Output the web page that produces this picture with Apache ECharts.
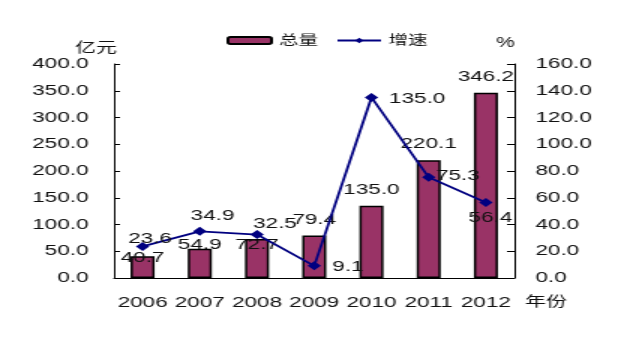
<!DOCTYPE html>
<html>
<head>
<meta charset="utf-8">
<script src="https://cdn.jsdelivr.net/npm/echarts@6/dist/echarts.min.js"></script>
<style>
  html, body { margin: 0; padding: 0; background: #fff; overflow: hidden; }
  /* The chart is laid out at 424px and stretched 1.5x horizontally to 636px */
  #chart { width: 424px; height: 341px; transform: scaleX(1.5); transform-origin: 0 0; }
</style>
</head>
<body>
<div id="chart"></div>
<script>
// Categories and values
const years = ['2006', '2007', '2008', '2009', '2010', '2011', '2012'];
const totalValues = [40.7, 54.9, 72.7, 79.4, 135.0, 220.1, 346.2];   // 总量, 亿元
const growthValues = [23.6, 34.9, 32.5, 9.1, 135.0, 75.3, 56.4];    // 增速, %

// Axis ranges
const leftAxisRange = [0, 400, 50];
const rightAxisRange = [0, 160, 20];

// Label placement tweaks (layout only)
const totalLabelShiftY = [17, 12, 21, 0, 0, -1, 0];
const growthLabelOffset = [[5, -8], [8.5, -15], [12, -11], [22.5, 1], [30.5, 1.5], [19.5, -1], [3, 15]];

const FONT = '"Liberation Sans", Arial, "Noto Sans CJK SC", sans-serif';
const TEXT = '#111';
const FS = 15;

const chart = echarts.init(document.getElementById('chart'));

const fmt = v => Number(v).toFixed(1);

chart.setOption({
  backgroundColor: '#fff',
  animation: false,
  textStyle: { fontFamily: FONT, color: TEXT },
  legend: {
    left: 146,
    top: 29,
    itemWidth: 29,
    itemHeight: 7,
    itemGap: 12,
    textStyle: { fontFamily: FONT, fontSize: 13, color: TEXT },
    data: ['总量', '增速']
  },
  grid: { left: 76, right: 81, top: 64, bottom: 63 },
  xAxis: {
    type: 'category',
    data: years,
    boundaryGap: true,
    name: '年份',
    nameLocation: 'end',
    nameGap: 7,
    nameTextStyle: { fontFamily: FONT, fontSize: 14, color: TEXT, verticalAlign: 'top', padding: [17, 0, 0, 0] },
    axisLine: { lineStyle: { color: '#000', width: 1 } },
    axisTick: { inside: true, length: 5, lineStyle: { color: '#000' } },
    axisLabel: { interval: 0, margin: 17, fontSize: FS, color: TEXT, fontFamily: FONT }
  },
  yAxis: [
    {
      type: 'value',
      position: 'left',
      min: leftAxisRange[0], max: leftAxisRange[1], interval: leftAxisRange[2],
      name: '亿元',
      nameLocation: 'end',
      nameGap: 9,
      nameTextStyle: { fontFamily: FONT, fontSize: 14, color: TEXT, padding: [0, 24, 0, 0] },
      axisLine: { show: true, lineStyle: { color: '#000', width: 1 } },
      axisTick: { show: true, inside: true, length: 4, lineStyle: { color: '#000' } },
      splitLine: { show: false },
      axisLabel: { margin: 17, fontSize: FS, color: TEXT, fontFamily: FONT, formatter: fmt }
    },
    {
      type: 'value',
      position: 'right',
      min: rightAxisRange[0], max: rightAxisRange[1], interval: rightAxisRange[2],
      name: '%',
      nameLocation: 'end',
      nameGap: 14,
      nameTextStyle: { fontFamily: FONT, fontSize: 14, color: TEXT, padding: [0, 12, 0, 0] },
      axisLine: { show: true, lineStyle: { color: '#000', width: 1 } },
      axisTick: { show: true, inside: true, length: 5, lineStyle: { color: '#000' } },
      splitLine: { show: false },
      axisLabel: { margin: 14, fontSize: FS, color: TEXT, fontFamily: FONT, formatter: fmt }
    }
  ],
  series: [
    {
      name: '总量',
      type: 'bar',
      yAxisIndex: 0,
      barWidth: 16,
      itemStyle: { color: '#993366', borderColor: '#000', borderWidth: 1.5 },
      label: {
        show: true,
        position: 'top',
        distance: 8,
        fontSize: FS,
        fontFamily: FONT,
        color: TEXT,
        formatter: p => fmt(p.value)
      },
      data: totalValues.map((v, i) => ({
        value: v,
        label: { offset: [0, totalLabelShiftY[i]] }
      })),
      z: 2
    },
    {
      name: '增速',
      type: 'line',
      yAxisIndex: 1,
      symbol: 'diamond',
      symbolSize: 9,
      lineStyle: { color: '#000080', width: 1.8 },
      itemStyle: { color: '#000080' },
      label: {
        show: true,
        position: 'inside',
        fontSize: FS,
        fontFamily: FONT,
        color: TEXT,
        formatter: p => fmt(p.value)
      },
      data: growthValues.map((v, i) => ({
        value: v,
        label: { offset: growthLabelOffset[i] }
      })),
      z: 3
    }
  ]
});
</script>
</body>
</html>
